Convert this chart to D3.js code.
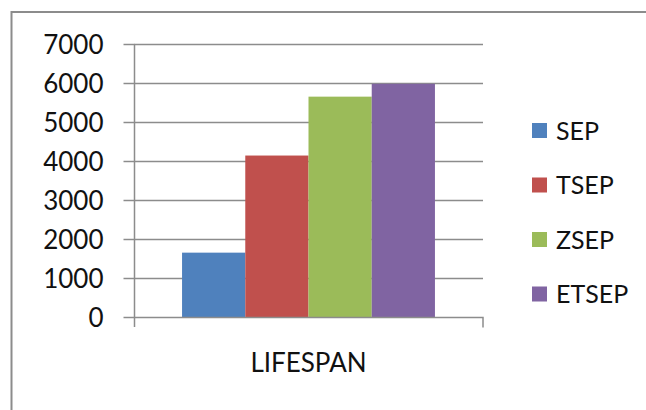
<!DOCTYPE html>
<html><head><meta charset="utf-8">
<script src="https://cdn.jsdelivr.net/npm/d3@7"></script>
<style>html,body{margin:0;padding:0;background:#fff;}svg{display:block;}</style>
</head><body>
<svg id="c" width="646" height="410"></svg>
<script>
const categories = ["LIFESPAN"];
const seriesNames = ["SEP", "TSEP", "ZSEP", "ETSEP"];
const seriesValues = [1650, 4140, 5650, 5980];
const seriesColors = ["#4f81bd", "#c0504d", "#9bbb59", "#8064a2"];
const yTicks = [0, 1000, 2000, 3000, 4000, 5000, 6000, 7000];

const svg = d3.select("#c");
const font = "Lato, 'Liberation Sans', sans-serif";
const pLeft = 134, pRight = 483, pTop = 44, pBottom = 317;

// outer border
svg.append("rect").attr("x", 11.5).attr("y", 12).attr("width", 700).attr("height", 500)
  .attr("fill", "none").attr("stroke", "#8c8c8c").attr("stroke-width", 2);

const y = d3.scaleLinear().domain([0, 7000]).range([pBottom, pTop]);
const x0 = d3.scaleBand().domain(categories).range([pLeft, pRight]).paddingInner(0).paddingOuter(0.19);
const x1 = d3.scaleBand().domain(seriesNames).range([0, x0.bandwidth()]).padding(0);

// gridlines
svg.append("g").selectAll("line").data(yTicks.filter(d => d > 0)).join("line")
  .attr("x1", pLeft).attr("x2", pRight)
  .attr("y1", d => Math.round(y(d)) + 0.5).attr("y2", d => Math.round(y(d)) + 0.5)
  .attr("stroke", "#8c8c8c").attr("stroke-width", 1.5);

// y axis
const yAxis = d3.axisLeft(y).tickValues(yTicks).tickSize(11).tickPadding(20).tickFormat(d3.format("d"));
const gy = svg.append("g").attr("transform", `translate(${pLeft + 0.5},0)`).call(yAxis);
gy.select(".domain").attr("d", `M0,${pTop} V${pBottom + 10}`).attr("stroke", "#8c8c8c").attr("stroke-width", 1.5);
gy.selectAll(".tick line").attr("stroke", "#8c8c8c").attr("stroke-width", 1.5);
gy.selectAll(".tick text").attr("font-family", font).attr("font-size", 26).attr("fill", "#111").attr("dy", "0.36em");

// bars
const g = svg.append("g");
categories.forEach(cat => {
  g.selectAll("rect.bar").data(seriesNames).join("rect").attr("class", "bar")
    .attr("x", (d) => x0(cat) + x1(d))
    .attr("width", x1.bandwidth())
    .attr("y", (d, i) => y(seriesValues[i]))
    .attr("height", (d, i) => y(0) - y(seriesValues[i]))
    .attr("fill", (d, i) => seriesColors[i]);
});

// x axis
const xAxis = d3.axisBottom(x0).tickSize(0).tickPadding(36);
const gx = svg.append("g").attr("transform", `translate(0,${pBottom + 0.5})`).call(xAxis);
gx.select(".domain").attr("d", `M${pLeft},0 H${pRight} V10`).attr("stroke", "#8c8c8c").attr("stroke-width", 1.5);
gx.selectAll(".tick text").attr("font-family", font).attr("font-size", 26).attr("fill", "#111");

// legend
const leg = svg.append("g").attr("transform", "translate(532,130.5)");
const items = leg.selectAll("g").data(seriesNames).join("g")
  .attr("transform", (d, i) => `translate(0,${i * 54.5})`);
items.append("rect").attr("x", 0).attr("y", -7.5).attr("width", 15).attr("height", 15)
  .attr("fill", (d, i) => seriesColors[i]);
items.append("text").attr("x", 24).attr("y", 0).attr("dy", "0.36em")
  .attr("font-family", font).attr("font-size", 25).attr("fill", "#111").text(d => d);
</script>
</body></html>
